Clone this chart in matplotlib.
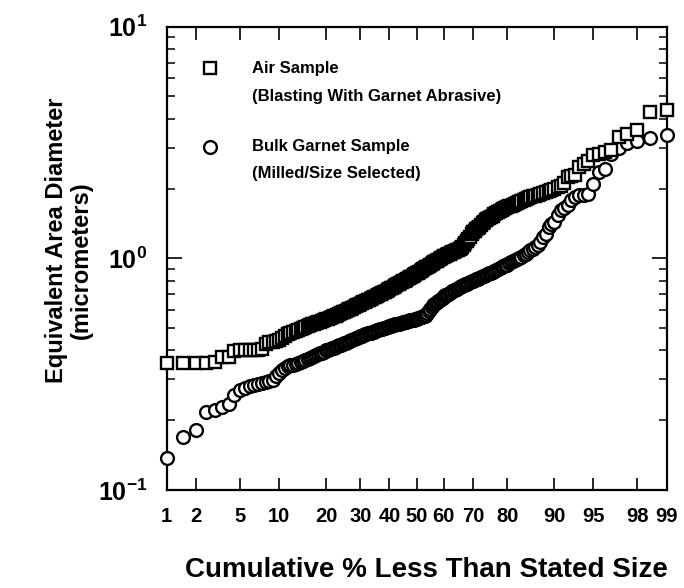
import numpy as np
import matplotlib
matplotlib.use("Agg")
import matplotlib.pyplot as plt
from statistics import NormalDist

# sorted equivalent area diameters (micrometers), smallest particle first
air_diam = [
    0.354, 0.354, 0.354, 0.354, 0.356, 0.374, 0.376, 0.397, 0.401, 0.401,
    0.401, 0.402, 0.403, 0.407, 0.425, 0.434, 0.436, 0.440,
    0.443, 0.452, 0.461, 0.469, 0.477, 0.481, 0.485, 0.490, 0.494, 0.499,
    0.504, 0.509, 0.514, 0.518, 0.522, 0.525, 0.529, 0.533, 0.537, 0.541, 0.545,
    0.549, 0.553, 0.558, 0.562, 0.566, 0.571, 0.575, 0.579, 0.584, 0.588,
    0.593, 0.597, 0.602, 0.606, 0.611, 0.616, 0.621, 0.626, 0.631, 0.636,
    0.641, 0.645, 0.650, 0.655, 0.659, 0.664, 0.669, 0.674, 0.679, 0.684,
    0.689, 0.694, 0.699, 0.704, 0.709, 0.714, 0.719, 0.724, 0.730, 0.735,
    0.741, 0.747, 0.753, 0.759, 0.765, 0.771, 0.777, 0.783, 0.789, 0.795,
    0.802, 0.808, 0.814, 0.821, 0.827, 0.834, 0.840, 0.847, 0.854, 0.861,
    0.868, 0.875, 0.883, 0.890, 0.898, 0.905, 0.913, 0.921, 0.929, 0.937,
    0.945, 0.953, 0.961, 0.969, 0.978, 0.986, 0.994, 1.003, 1.011, 1.020,
    1.027, 1.034, 1.041, 1.048, 1.055, 1.062, 1.069, 1.076, 1.083, 1.090,
    1.098, 1.105, 1.124, 1.144, 1.164, 1.184, 1.21, 1.24, 1.27, 1.30,
    1.316, 1.333, 1.35, 1.37, 1.39, 1.415, 1.44, 1.46, 1.478, 1.495,
    1.512, 1.53, 1.547, 1.565, 1.582, 1.60, 1.615, 1.63, 1.645, 1.66,
    1.675, 1.69, 1.705, 1.72, 1.735, 1.75, 1.765, 1.78, 1.797, 1.815,
    1.832, 1.85, 1.865, 1.88, 1.895, 1.91, 1.93, 1.955, 1.98, 2.0,
    2.03, 2.06, 2.12, 2.24, 2.26, 2.28, 2.48, 2.56, 2.64, 2.78,
    2.83, 2.88, 2.92, 3.34, 3.45, 3.57, 4.28, 4.35,
]

bulk_diam = [
    0.138, 0.169, 0.181, 0.217, 0.221, 0.228, 0.236, 0.257, 0.269, 0.275,
    0.280, 0.284, 0.287, 0.289, 0.292, 0.295, 0.298, 0.310, 0.320, 0.330,
    0.337, 0.342, 0.345,
    0.348, 0.351, 0.354, 0.358, 0.361, 0.364, 0.368, 0.371, 0.374, 0.378,
    0.381, 0.385, 0.389, 0.392, 0.396, 0.400,
    0.403, 0.406, 0.409, 0.412, 0.415, 0.418, 0.421, 0.424, 0.427, 0.430,
    0.433, 0.436, 0.439, 0.442, 0.446, 0.449, 0.452, 0.455, 0.459, 0.462,
    0.464, 0.467, 0.469, 0.471, 0.474, 0.476, 0.478, 0.481, 0.483, 0.485,
    0.488, 0.490, 0.493, 0.495, 0.497, 0.500, 0.502, 0.505, 0.507, 0.510,
    0.512, 0.514, 0.516, 0.518, 0.519, 0.521, 0.523, 0.525, 0.527, 0.529,
    0.531, 0.533, 0.535, 0.537, 0.539, 0.540, 0.542, 0.544, 0.546, 0.548,
    0.551, 0.553, 0.556, 0.559,
    0.562, 0.566, 0.572, 0.580, 0.592, 0.605, 0.618, 0.628, 0.636, 0.643,
    0.650, 0.656, 0.662, 0.668, 0.674, 0.685,
    0.691, 0.697, 0.703, 0.709, 0.715, 0.721, 0.727, 0.733, 0.739, 0.745,
    0.750, 0.756, 0.761, 0.767, 0.772, 0.778, 0.783, 0.789, 0.795, 0.800,
    0.806, 0.812, 0.818, 0.824, 0.830, 0.836, 0.842, 0.848, 0.854, 0.860,
    0.868, 0.875, 0.883, 0.891, 0.899, 0.907, 0.915, 0.923, 0.932, 0.940,
    0.951, 0.962, 0.973, 0.984, 0.995, 1.006, 1.018, 1.030,
    1.047, 1.064, 1.082, 1.100,
    1.12, 1.14, 1.176, 1.23, 1.278, 1.365, 1.40, 1.434, 1.533, 1.61,
    1.65, 1.694, 1.78, 1.84, 1.87, 1.88, 1.90, 2.10, 2.36, 2.44,
    2.83, 3.00, 3.15, 3.22, 3.32, 3.40,
]

pct_ticks = [1, 2, 5, 10, 20, 30, 40, 50, 60, 70, 80, 90, 95, 98, 99]
diam_ticks = [0.1, 1, 10]
diam_tick_labels = [r'$10^{-1}$', r'$10^{0}$', r'$10^{1}$']

air_label = ["Air Sample", "(Blasting With Garnet Abrasive)"]
bulk_label = ["Bulk Garnet Sample", "(Milled/Size Selected)"]

_nd = NormalDist()


def prob_forward(p):
    # cumulative percent -> standard normal deviate
    p = np.asarray(p, dtype=float)
    q = np.clip(p.ravel(), 1e-9, 100 - 1e-9) / 100
    z = np.array([_nd.inv_cdf(v) if np.isfinite(v) else np.nan for v in q], dtype=float)
    return z.reshape(p.shape)


def prob_inverse(z):
    z = np.asarray(z, dtype=float)
    p = np.array([_nd.cdf(v) * 100 if np.isfinite(v) else np.nan for v in z.ravel()], dtype=float)
    return p.reshape(z.shape)


def cumulative_pct(values):
    # plotting position of each ranked particle, spread over 1..99 %
    n = len(values)
    return 1 + 98 * np.arange(n) / (n - 1)


def build_plot():
    plt.rcParams['font.family'] = ['Liberation Sans', 'DejaVu Sans']
    plt.rcParams['font.weight'] = 'bold'
    plt.rcParams['mathtext.fontset'] = 'custom'
    plt.rcParams['mathtext.rm'] = 'Liberation Sans:bold'
    plt.rcParams['mathtext.bf'] = 'Liberation Sans:bold'
    plt.rcParams['mathtext.default'] = 'bf'

    fig = plt.figure(figsize=(6.84, 5.88), dpi=100)
    ax = fig.add_axes([0.2437, 0.1667, 0.731, 0.788])

    ax.set_xscale('function', functions=(prob_forward, prob_inverse))
    ax.set_yscale('log')

    mk = dict(linestyle='none', mfc='white', mec='black', ms=9.2, mew=1.7,
              clip_on=False, zorder=3)
    ax.plot(cumulative_pct(bulk_diam), bulk_diam, marker='o', **mk)
    ax.plot(cumulative_pct(air_diam), air_diam, marker='s', **mk)

    ax.set_xlim(1, 99)
    ax.set_ylim(0.1, 10)

    ax.set_xticks(pct_ticks)
    ax.set_xticklabels([str(t) for t in pct_ticks])
    ax.xaxis.set_minor_locator(matplotlib.ticker.NullLocator())
    ax.set_yticks(diam_ticks)
    ax.set_yticklabels(diam_tick_labels)

    for s in ax.spines.values():
        s.set_linewidth(1.6)
    ax.tick_params(axis='x', which='major', direction='in', top=True, length=9,
                   width=1.2, pad=12, labelsize=14.5)
    ax.tick_params(axis='y', which='major', direction='in', right=True, length=11,
                   width=1.2, pad=14, labelsize=18)
    ax.tick_params(axis='y', which='minor', direction='in', right=True, length=6,
                   width=1.1)

    # legend keys, first line of each entry next to its marker
    ax.plot([0.0866], [0.910], marker='s', transform=ax.transAxes, **mk)
    ax.plot([0.0866], [0.741], marker='o', transform=ax.transAxes, **mk)
    for ypos, txt in zip([0.910, 0.849], air_label):
        ax.text(0.17, ypos, txt, transform=ax.transAxes, va='center', ha='left', fontsize=12)
    for ypos, txt in zip([0.741, 0.684], bulk_label):
        ax.text(0.17, ypos, txt, transform=ax.transAxes, va='center', ha='left', fontsize=12)

    fig.text(0.0829, 0.592, "Equivalent Area Diameter", rotation=90,
             ha='center', va='center', fontsize=17)
    fig.text(0.1194, 0.558, "(micrometers)", rotation=90,
             ha='center', va='center', fontsize=17)
    fig.text(0.623, 0.0306, "Cumulative % Less Than Stated Size",
             ha='center', va='center', fontsize=20)

    fig.savefig('out.png', dpi=100)


if __name__ == "__main__":
    build_plot()
